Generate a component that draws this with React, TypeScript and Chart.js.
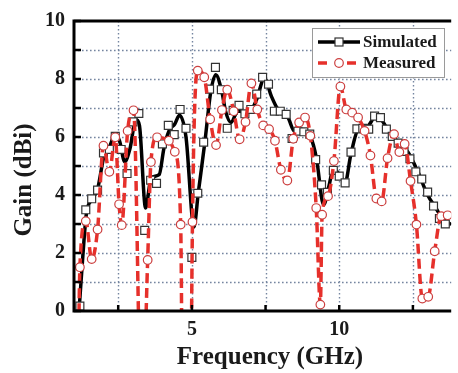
import React, { useEffect, useRef } from 'react';
import { Chart, registerables } from 'chart.js';

Chart.register(...registerables);

// ---------- data ----------
// Simulated gain: symbol positions (GHz, dBi)
const simFreq = [1.2, 1.4, 1.6, 1.8, 2.0, 2.2, 2.4, 2.6, 2.8, 3.0, 3.2, 3.4, 3.6, 3.8, 4.0, 4.2, 4.4, 4.6, 4.8, 5.0, 5.2, 5.4, 5.6, 5.8, 6.0, 6.2, 6.4, 6.6, 6.8, 7.0, 7.2, 7.4, 7.6, 7.8, 8.0, 8.2, 8.4, 8.6, 8.8, 9.0, 9.2, 9.4, 9.6, 9.8, 10.0, 10.2, 10.4, 10.6, 10.8, 11.0, 11.2, 11.4, 11.6, 11.8, 12.0, 12.2, 12.4, 12.6, 12.8, 13.0, 13.2, 13.4, 13.6];
const simGain = [0.17, 3.49, 3.87, 4.17, 5.45, 5.57, 6.02, 5.57, 4.74, 6.52, 6.81, 2.78, 4.51, 4.4, 5.76, 6.4, 6.08, 6.95, 6.3, 1.85, 4.06, 5.82, 7.65, 8.4, 7.63, 6.3, 6.92, 7.09, 6.8, 6.95, 7.48, 8.06, 7.82, 6.89, 6.89, 6.78, 5.95, 6.2, 6.18, 6.1, 5.22, 4.35, 4.09, 4.85, 4.65, 4.42, 5.48, 6.28, 6.3, 6.27, 6.72, 6.67, 6.27, 6.02, 5.79, 5.5, 5.25, 4.8, 4.55, 4.1, 3.62, 3.19, 3.0];

// Simulated gain: the continuous curve
const simCurveFreq = [1.17, 1.3, 1.42, 1.61, 1.8, 2.02, 2.22, 2.4, 2.55, 2.72, 2.9, 3.1, 3.22, 3.43, 3.62, 3.89, 4.05, 4.22, 4.42, 4.58, 4.8, 5.07, 5.22, 5.44, 5.64, 5.81, 6.03, 6.14, 6.33, 6.56, 6.85, 7.03, 7.2, 7.46, 7.7, 7.92, 8.26, 8.48, 8.78, 9.03, 9.23, 9.47, 9.65, 9.8, 10.03, 10.2, 10.39, 10.64, 10.9, 11.26, 11.45, 11.66, 12.0, 12.33, 12.67, 13.0, 13.28, 13.5, 13.8];
const simCurveGain = [0, 1.9, 3.35, 3.85, 4.2, 5.35, 5.7, 6.1, 5.85, 5.15, 5.6, 6.6, 6.4, 3.55, 4.6, 4.7, 5.6, 6.2, 6.45, 6.75, 6.0, 2.9, 4.1, 5.82, 7.55, 8.15, 7.5, 6.9, 6.5, 6.9, 6.85, 6.95, 7.3, 8.03, 7.4, 6.95, 6.67, 6.2, 6.2, 6.0, 5.25, 3.66, 4.3, 4.9, 4.68, 4.42, 5.37, 6.24, 6.3, 6.72, 6.57, 6.24, 5.82, 5.48, 4.8, 4.0, 3.55, 3.2, 2.98];

// Measured gain: symbol positions
const measFreq = [1.2, 1.4, 1.6, 1.8, 2.0, 2.2, 2.4, 2.53, 2.62, 2.82, 3.02, 3.5, 3.61, 3.82, 4.22, 4.42, 4.62, 5.02, 5.2, 5.42, 5.62, 5.82, 6.02, 6.2, 6.42, 6.62, 6.82, 7.02, 7.22, 7.42, 7.62, 7.82, 8.02, 8.24, 8.44, 8.64, 8.84, 9.02, 9.22, 9.36, 9.42, 9.62, 9.82, 10.04, 10.24, 10.44, 10.64, 10.86, 11.06, 11.26, 11.44, 11.64, 11.86, 12.04, 12.22, 12.42, 12.62, 12.82, 13.02, 13.24, 13.46, 13.68];
const measGain = [1.51, 3.1, 1.79, 2.81, 5.7, 4.8, 5.99, 3.68, 2.96, 6.21, 6.92, 1.76, 5.14, 5.99, 5.87, 5.49, 2.98, 3.07, 8.29, 8.06, 6.61, 5.72, 6.93, 7.63, 6.89, 5.92, 6.52, 7.85, 6.95, 6.4, 6.27, 5.87, 4.87, 4.5, 5.94, 6.5, 6.67, 6.04, 3.55, 0.22, 3.32, 3.96, 5.17, 7.74, 6.95, 6.84, 6.67, 6.21, 5.36, 3.88, 3.78, 5.27, 6.1, 5.48, 5.76, 4.48, 2.98, 0.43, 0.49, 2.06, 3.27, 3.3];

// Measured curve: extra points where the curve leaves the plot (below 0 dBi)
const measDipFreq = [1.16, 3.3, 4.8];
const measDipGain = [-0.6, -4, -25];

// Axis ticks
const xTicks = [2.5, 5, 7.5, 10, 12.5];
const xTickLabels = ['', '5', '', '10', ''];
const yTicks = [0, 1, 2, 3, 4, 5, 6, 7, 8, 9, 10];
const yTickLabels = ['0', '', '2', '', '4', '', '6', '', '8', '', '10'];

const seriesLabels = ['Simulated', 'Measured'];
const xTitle = 'Frequency (GHz)';
const yTitle = 'Gain (dBi)';

// ---------- styles ----------
const FONT = '"Liberation Serif", "Times New Roman", serif';
const SIM_COLOR = '#000000';
const SIM_MARK = '#333333';
const MEAS_COLOR = '#e6302b';
const MEAS_MARK = '#cc4040';
const GRID_COLOR = '#7585a0';

const xy = (fs: number[], gs: number[]) => fs.map((f, i) => ({ x: f, y: gs[i] }));

const gridPlugin = {
  id: 'dottedGrid',
  beforeDatasetsDraw(chart: any) {
    const { ctx, chartArea: a, scales } = chart;
    ctx.save();
    ctx.strokeStyle = GRID_COLOR;
    ctx.lineWidth = 1.4;
    ctx.setLineDash([1.6, 2.4]);
    yTicks.forEach((v) => {
      if (v === 0 || v === 10) return;
      const py = Math.round(scales.y.getPixelForValue(v)) + 0.5;
      ctx.beginPath();
      ctx.moveTo(a.left, py);
      ctx.lineTo(a.right, py);
      ctx.stroke();
    });
    xTicks.forEach((v) => {
      const px = Math.round(scales.x.getPixelForValue(v)) + 0.5;
      ctx.beginPath();
      ctx.moveTo(px, a.top);
      ctx.lineTo(px, a.bottom);
      ctx.stroke();
    });
    ctx.restore();
  },
};

const framePlugin = {
  id: 'frame',
  afterDraw(chart: any) {
    const { ctx, chartArea: a, scales } = chart;
    ctx.save();
    // frame lines
    ctx.strokeStyle = '#000';
    ctx.lineWidth = 3;
    ctx.beginPath();
    ctx.moveTo(a.right, a.top);
    ctx.lineTo(a.left, a.top);
    ctx.lineTo(a.left, a.bottom);
    ctx.lineTo(a.right, a.bottom);
    ctx.stroke();
    // inward ticks
    ctx.lineWidth = 2.5;
    yTicks.forEach((v) => {
      const py = scales.y.getPixelForValue(v);
      ctx.beginPath();
      ctx.moveTo(a.left, py);
      ctx.lineTo(a.left + 7, py);
      ctx.stroke();
    });
    xTicks.forEach((v) => {
      const px = scales.x.getPixelForValue(v);
      ctx.beginPath();
      ctx.moveTo(px, a.bottom);
      ctx.lineTo(px, a.bottom - 6);
      ctx.stroke();
    });
    // axis titles
    ctx.fillStyle = '#1a1a1a';
    ctx.font = `bold 25px ${FONT}`;
    ctx.textAlign = 'center';
    ctx.textBaseline = 'alphabetic';
    ctx.fillText(xTitle, 270, 364);
    ctx.save();
    ctx.translate(25, 180);
    ctx.rotate(-Math.PI / 2);
    ctx.textBaseline = 'middle';
    ctx.fillText(yTitle, 0, 0);
    ctx.restore();

    // legend
    const bx = 312, by = 28, bw = 132, bh = 49;
    ctx.fillStyle = '#fff';
    ctx.fillRect(bx, by, bw, bh);
    ctx.strokeStyle = '#9a9a9a';
    ctx.lineWidth = 1;
    ctx.strokeRect(bx + 0.5, by + 0.5, bw, bh);
    const rows = [42, 63];
    // simulated sample
    ctx.strokeStyle = SIM_COLOR;
    ctx.lineWidth = 3.5;
    ctx.beginPath();
    ctx.moveTo(318, rows[0]);
    ctx.lineTo(360, rows[0]);
    ctx.stroke();
    ctx.fillStyle = '#fff';
    ctx.strokeStyle = SIM_MARK;
    ctx.lineWidth = 1.2;
    ctx.fillRect(335, rows[0] - 4, 8, 8);
    ctx.strokeRect(335, rows[0] - 4, 8, 8);
    // measured sample
    ctx.strokeStyle = MEAS_COLOR;
    ctx.lineWidth = 3.5;
    ctx.setLineDash([9, 20]);
    ctx.beginPath();
    ctx.moveTo(318, rows[1]);
    ctx.lineTo(358, rows[1]);
    ctx.stroke();
    ctx.setLineDash([]);
    ctx.fillStyle = '#fff';
    ctx.strokeStyle = MEAS_MARK;
    ctx.lineWidth = 1.2;
    ctx.beginPath();
    ctx.arc(339, rows[1], 4.3, 0, Math.PI * 2);
    ctx.fill();
    ctx.stroke();
    // legend text
    ctx.fillStyle = '#1a1a1a';
    ctx.font = `bold 17px ${FONT}`;
    ctx.textAlign = 'left';
    ctx.textBaseline = 'middle';
    ctx.fillText(seriesLabels[0], 363, rows[0] + 1);
    ctx.fillText(seriesLabels[1], 363, rows[1] + 1);
    ctx.restore();
  },
};

export default function App() {
  const ref = useRef<HTMLCanvasElement>(null);
  useEffect(() => {
    if (!ref.current) return;
    const measCurve = [...xy(measFreq, measGain), ...xy(measDipFreq, measDipGain)].sort((p, q) => p.x - q.x);
    const tickFont = { family: FONT, size: 20, weight: 'bold' as const };
    const chart = new Chart(ref.current, {
      type: 'line',
      data: {
        datasets: [
          {
            label: seriesLabels[0],
            data: xy(simCurveFreq, simCurveGain),
            borderColor: SIM_COLOR,
            borderWidth: 3.5,
            pointRadius: 0,
            cubicInterpolationMode: 'monotone',
            fill: false,
            order: 3,
          },
          {
            label: seriesLabels[0] + ' symbols',
            data: xy(simFreq, simGain),
            showLine: false,
            pointStyle: 'rect',
            pointRadius: 5.6,
            pointBackgroundColor: '#ffffff',
            pointBorderColor: SIM_MARK,
            pointBorderWidth: 1.2,
            order: 2,
          },
          {
            label: seriesLabels[1],
            data: measCurve,
            borderColor: MEAS_COLOR,
            borderWidth: 3.5,
            borderDash: [10, 5],
            pointRadius: 0,
            cubicInterpolationMode: 'monotone',
            fill: false,
            order: 1,
          },
          {
            label: seriesLabels[1] + ' symbols',
            data: xy(measFreq, measGain),
            showLine: false,
            pointStyle: 'circle',
            pointRadius: 4.3,
            pointBackgroundColor: '#ffffff',
            pointBorderColor: MEAS_MARK,
            pointBorderWidth: 1.2,
            order: 0,
          },
        ],
      },
      options: {
        animation: false,
        responsive: false,
        maintainAspectRatio: false,
        layout: { padding: { top: 17, left: 0, right: 0, bottom: 0 } },
        plugins: { legend: { display: false }, tooltip: { enabled: false } },
        scales: {
          x: {
            type: 'linear',
            min: 1,
            max: 13.8,
            afterBuildTicks: (s: any) => {
              s.ticks = xTicks.map((v) => ({ value: v }));
            },
            afterFit: (s: any) => {
              s.height = 62;
            },
            ticks: {
              autoSkip: false,
              maxRotation: 0,
              padding: 7,
              color: '#1a1a1a',
              font: tickFont,
              callback: (v: any) => {
                const i = xTicks.indexOf(Number(v));
                return i >= 0 ? xTickLabels[i] : '';
              },
            },
            grid: { display: false, drawTicks: false },
            border: { display: false },
          },
          y: {
            type: 'linear',
            min: 0,
            max: 10,
            afterBuildTicks: (s: any) => {
              s.ticks = yTicks.map((v) => ({ value: v }));
            },
            afterFit: (s: any) => {
              s.width = 74;
            },
            ticks: {
              autoSkip: false,
              padding: 9,
              color: '#1a1a1a',
              font: tickFont,
              callback: (v: any) => {
                const i = yTicks.indexOf(Number(v));
                return i >= 0 ? yTickLabels[i] : '';
              },
            },
            grid: { display: false, drawTicks: false },
            border: { display: false },
          },
        },
      },
      plugins: [gridPlugin, framePlugin],
    } as any);
    return () => chart.destroy();
  }, []);

  return (
    <div style={{ position: 'fixed', left: 0, top: 0, width: 458, height: 373, background: '#fff' }}>
      <canvas ref={ref} width={458} height={373} style={{ display: 'block', width: 458, height: 373 }} />
    </div>
  );
}
